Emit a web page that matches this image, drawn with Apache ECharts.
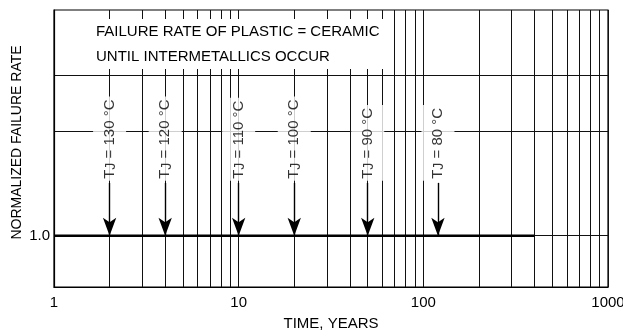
<!DOCTYPE html>
<html>
<head>
<meta charset="utf-8">
<script src="https://cdn.jsdelivr.net/npm/echarts@6/dist/echarts.min.js"></script>
<style>
  html, body { margin: 0; padding: 0; background: #fff; }
  #chart { width: 623px; height: 333px; }
</style>
</head>
<body>
<div id="chart"></div>
<script>
// Junction temperatures and the time (years) at which intermetallics appear
const temps = ['130', '120', '110', '100', '90', '80'];
const years = [2, 4, 10, 20, 50, 120];

// Normalized failure rate baseline (plastic = ceramic)
const baseRate = 1.0;
const baseEnd = 400;

// Axis ticks
const xLabelValues = [1, 10, 100, 1000];
const xGridValues = [1, 2, 3, 4, 5, 6, 7, 8, 9, 10, 20, 30, 40, 50, 60, 70, 80, 90, 100,
                     200, 300, 400, 500, 600, 700, 800, 900, 1000];
const yGridValues = [1.0, 3.04, 4.13];
const yLabelValues = [1.0];

// Vertical extent of the temperature arrows and their labels (y-axis units)
const labelBase = 2.07;
const arrowTop = 2.03;

const FONT = "'Liberation Sans', Arial, sans-serif";

const chart = echarts.init(document.getElementById('chart'), null, { renderer: 'canvas' });

const arrowLines = years.map(t => [
  { coord: [t, arrowTop] },
  { coord: [t, baseRate] }
]);

const labelPoints = years.map((t, i) => ({ value: [t, labelBase], name: temps[i] }));

chart.setOption({
  animation: false,
  backgroundColor: '#fff',
  grid: {
    left: 54, right: 15, top: 10, bottom: 46,
    outerBoundsMode: 'none',
    show: true, borderColor: '#000', borderWidth: 1.2, backgroundColor: 'transparent'
  },
  xAxis: {
    type: 'log', logBase: 10, min: 1, max: 1000,
    name: 'TIME, YEARS', nameLocation: 'middle', nameGap: 29,
    nameMoveOverlap: false,
    nameTextStyle: { fontFamily: FONT, fontSize: 15, color: '#000' },
    axisLine: { show: true, lineStyle: { color: '#000', width: 1.2 } },
    axisTick: { show: false, customValues: xGridValues },
    axisLabel: {
      customValues: xLabelValues, margin: 8,
      formatter: v => String(Math.round(v)),
      fontFamily: FONT, fontSize: 15, color: '#000'
    },
    splitLine: { show: true, lineStyle: { color: '#111', width: 1 } },
    minorSplitLine: { show: false }
  },
  yAxis: {
    type: 'value', min: 0, max: 5.4,
    name: 'NORMALIZED FAILURE RATE', nameLocation: 'middle', nameGap: 30,
    nameMoveOverlap: false,
    nameTextStyle: { fontFamily: FONT, fontSize: 14, color: '#000', padding: [0, 0, 0, 12] },
    axisLine: { show: true, lineStyle: { color: '#000', width: 1.2 } },
    axisTick: { show: false, customValues: yGridValues },
    axisLabel: {
      customValues: yLabelValues, margin: 4,
      formatter: v => v.toFixed(1),
      fontFamily: FONT, fontSize: 15, color: '#000'
    },
    splitLine: { show: true, lineStyle: { color: '#111', width: 1 } }
  },
  graphic: [{
    type: 'text',
    left: 93, top: 19,
    z: 50,
    style: {
      text: 'FAILURE RATE OF PLASTIC = CERAMIC\nUNTIL INTERMETALLICS OCCUR',
      font: '15px ' + FONT,
      fill: '#000',
      lineHeight: 25,
      backgroundColor: '#fff',
      padding: [0, 4, 0, 3]
    }
  }],
  series: [
    {
      // thick baseline
      type: 'line',
      data: [[1, baseRate], [baseEnd, baseRate]],
      symbol: 'none',
      lineStyle: { color: '#000', width: 2.6 },
      z: 5,
      markLine: {
        silent: true,
        symbol: ['none', 'arrow'],
        symbolSize: [10, 18],
        label: { show: false },
        lineStyle: { color: '#000', width: 1.4, type: 'solid' },
        data: arrowLines
      }
    },
    {
      // temperature labels
      type: 'scatter',
      data: labelPoints,
      symbolSize: 0,
      z: 10,
      label: {
        show: true,
        position: [0, 0],
        rotate: 90,
        align: 'left',
        verticalAlign: 'middle',
        backgroundColor: '#fff',
        padding: [8, 3, 8, 2],
        formatter: p => '{t|T}{j|J}{t| = ' + p.name + ' °C}',
        rich: {
          t: { fontFamily: FONT, fontSize: 15, color: '#000' },
          j: { fontFamily: FONT, fontSize: 14, color: '#000', padding: [3, 0, 0, 0] }
        }
      }
    }
  ]
});
</script>
</body>
</html>
